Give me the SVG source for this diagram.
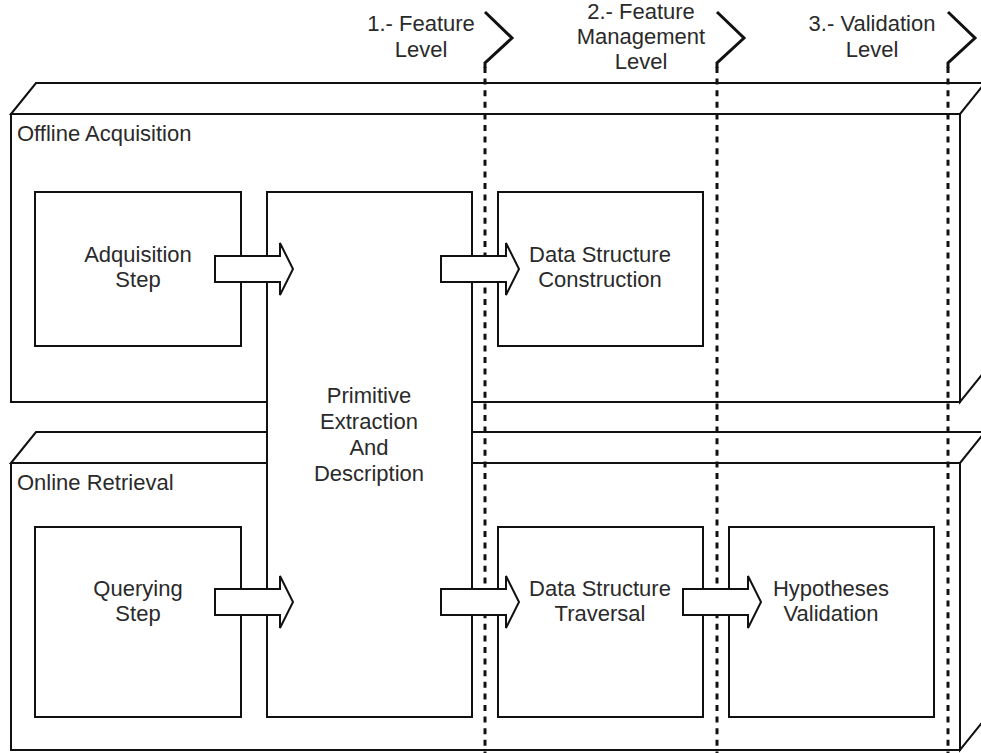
<svg xmlns="http://www.w3.org/2000/svg" width="981" height="753" viewBox="0 0 981 753">
  <style>
    .box { fill: #fff; stroke: #111; stroke-width: 2; stroke-linejoin: miter; }
    .face { fill: #fff; stroke: #111; stroke-width: 2; stroke-linejoin: miter; }
    .lbl { font-family: "Liberation Sans", Arial, sans-serif; font-size: 22px; fill: #2a2a2a; }
    .mid { text-anchor: middle; }
    .level { fill: none; stroke: #111; stroke-width: 3; stroke-dasharray: 6 5.6; }
    .chev { fill: none; stroke: #111; stroke-width: 3; stroke-linejoin: miter; }
    .flow { fill: #fff; stroke: #111; stroke-width: 2; stroke-linejoin: miter; }
  </style>

  <rect width="981" height="753" fill="#fff"/>

  <!-- Offline Acquisition stage (3D block) -->
  <g id="offline">
    <polygon class="face" points="11,114 36,83 1000,83 985,114"/>
    <polygon class="face" points="960,114 985,83 985,371 960,402"/>
    <rect class="box" x="11" y="114" width="949" height="288"/>
    <text class="lbl" x="17" y="141">Offline Acquisition</text>
  </g>

  <!-- Online Retrieval stage (3D block) -->
  <g id="online">
    <polygon class="face" points="11,463 36,432 1000,432 985,463"/>
    <polygon class="face" points="960,463 985,432 985,719 960,750"/>
    <rect class="box" x="11" y="463" width="949" height="287"/>
    <text class="lbl" x="17" y="490">Online Retrieval</text>
  </g>

  <!-- Process steps -->
  <g id="adquisition">
    <rect class="box" x="35" y="192" width="206" height="154"/>
    <text class="lbl mid" x="138" y="262">Adquisition</text>
    <text class="lbl mid" x="138" y="287">Step</text>
  </g>

  <g id="construction">
    <rect class="box" x="498" y="192" width="205" height="154"/>
    <text class="lbl mid" x="600" y="262">Data Structure</text>
    <text class="lbl mid" x="600" y="287">Construction</text>
  </g>

  <g id="querying">
    <rect class="box" x="35" y="527" width="206" height="190"/>
    <text class="lbl mid" x="138" y="596">Querying</text>
    <text class="lbl mid" x="138" y="621">Step</text>
  </g>

  <g id="traversal">
    <rect class="box" x="498" y="527" width="205" height="190"/>
    <text class="lbl mid" x="600" y="596">Data Structure</text>
    <text class="lbl mid" x="600" y="621">Traversal</text>
  </g>

  <g id="validation">
    <rect class="box" x="729" y="527" width="205" height="190"/>
    <text class="lbl mid" x="831" y="596">Hypotheses</text>
    <text class="lbl mid" x="831" y="621">Validation</text>
  </g>

  <g id="primitive">
    <rect class="box" x="267" y="192" width="205" height="525"/>
    <text class="lbl mid" x="369" y="403">Primitive</text>
    <text class="lbl mid" x="369" y="429">Extraction</text>
    <text class="lbl mid" x="369" y="455">And</text>
    <text class="lbl mid" x="369" y="481">Description</text>
  </g>

  <!-- Level boundaries -->
  <g id="levels">
    <line class="level" x1="485" y1="67" x2="485" y2="753"/>
    <line class="level" x1="717" y1="67" x2="717" y2="753"/>
    <line class="level" x1="948" y1="67" x2="948" y2="753"/>
    <polyline class="chev" points="485,12 512,38 485,63 485,68"/>
    <polyline class="chev" points="717,12 744,38 717,63 717,68"/>
    <polyline class="chev" points="948,12 975,38 948,63 948,68"/>
    <text class="lbl mid" x="421" y="31">1.- Feature</text>
    <text class="lbl mid" x="421" y="57">Level</text>
    <text class="lbl mid" x="641" y="19">2.- Feature</text>
    <text class="lbl mid" x="641" y="44">Management</text>
    <text class="lbl mid" x="641" y="69">Level</text>
    <text class="lbl mid" x="872" y="31">3.- Validation</text>
    <text class="lbl mid" x="872" y="57">Level</text>
  </g>

  <!-- Connectors: block arrows between steps -->
  <g id="connectors">
    <polygon class="flow" points="215,256 280,256 280,243 293,269 280,295 280,282 215,282"/>
    <polygon class="flow" points="441,256 506,256 506,243 519,269 506,295 506,282 441,282"/>
    <polygon class="flow" points="215,589 280,589 280,576 293,602 280,628 280,615 215,615"/>
    <polygon class="flow" points="441,589 506,589 506,576 519,602 506,628 506,615 441,615"/>
    <polygon class="flow" points="683,589 748,589 748,576 761,602 748,628 748,615 683,615"/>
  </g>
</svg>
